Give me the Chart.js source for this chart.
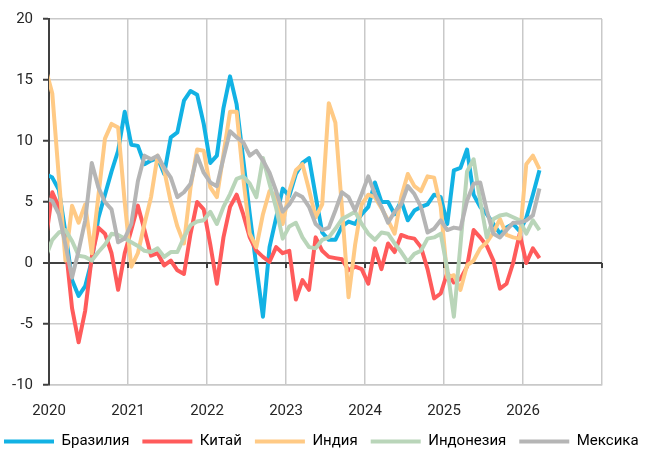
<!DOCTYPE html>
<html>
<head>
<meta charset="utf-8">
<script src="https://cdn.jsdelivr.net/npm/chart.js@4.4.1/dist/chart.umd.min.js"></script>
<style>
    html, body { margin: 0; padding: 0; background: #ffffff; }
</style>
</head>
<body>
<canvas id="chart" width="653" height="454"></canvas>
<script>
// Monthly series, Dec 2019 .. Mar 2026 (Dec 2019 is only there so the line runs into the axis)
const firstMonth = { year: 2019, month: 12 };
const yearTicks = [2020, 2021, 2022, 2023, 2024, 2025, 2026];

const seriesNames = ['Бразилия', 'Китай', 'Индия', 'Индонезия', 'Мексика'];
const seriesColors = ['#12B2E4', '#FF5B5B', '#FFCA85', '#B9D5B9', '#B5B5B5'];

const brazil = [
    7.3, 7.0, 6.0, 2.5, -1.4, -2.7, -1.9, 0.2, 3.7, 5.6, 7.5, 9.2, 12.4,
    9.7, 9.6, 8.1, 8.4, 8.6, 7.3, 10.3, 10.7, 13.3, 14.1, 13.8, 11.4,
    8.2, 8.8, 12.7, 15.3, 13.0, 8.5, 4.0, -0.3, -4.4, 1.3, 3.7, 6.1,
    5.5, 7.3, 8.2, 8.6, 5.5, 2.5, 1.9, 1.9, 3.0, 3.4, 3.2, 4.0,
    4.6, 6.6, 5.0, 5.0, 4.0, 5.1, 3.5, 4.3, 4.6, 4.8, 5.6, 5.4,
    3.2, 7.6, 7.8, 9.3, 5.6, 4.6, 4.0, 3.2, 2.4, 2.9, 3.2, 2.6,
    3.7, 5.6, 7.6
];
const china = [
    1.8, 5.8, 4.6, 1.5, -3.7, -6.5, -3.9, 0.5, 2.9, 2.4, 0.8, -2.2, 0.8,
    2.7, 4.7, 2.7, 0.6, 0.8, -0.2, 0.2, -0.6, -0.9, 2.4, 5.0, 4.4,
    1.5, -1.7, 2.1, 4.6, 5.6, 4.0, 2.1, 1.0, 0.5, 0.1, 1.3, 0.8,
    1.0, -3.0, -1.4, -2.2, 2.1, 1.0, 0.5, 0.4, 0.3, -0.6, -0.3, -0.5,
    -1.7, 1.2, -0.5, 1.6, 0.9, 2.3, 2.1, 2.0, 1.3, -0.5, -2.9, -2.5,
    -0.8, -1.6, -1.3, -0.3, 2.7, 2.1, 1.4, 0.2, -2.1, -1.7, 0.0, 2.4,
    0.0, 1.2, 0.4
];
const india = [
    15.9, 13.9, 7.0, 0.2, 4.7, 3.3, 4.8, 0.8, 5.5, 10.2, 11.4, 11.1, 5.0,
    -0.3, 0.8, 3.2, 5.4, 8.8, 7.6, 5.0, 3.0, 1.6, 6.2, 9.3, 9.2,
    6.2, 5.4, 8.9, 12.4, 12.4, 7.0, 2.4, 1.3, 4.0, 5.9, 5.5, 3.2,
    5.9, 7.6, 8.1, 6.0, 3.75, 4.8, 13.1, 11.5, 4.5, -2.8, 1.5, 4.8,
    5.6, 5.4, 4.5, 3.5, 2.4, 5.4, 7.3, 6.3, 5.9, 7.1, 7.0, 4.6,
    -1.2, -1.0, -2.2, -0.2, 0.2, 1.2, 1.7, 2.5, 3.6, 2.3, 2.1, 2.0,
    8.1, 8.8, 7.7
];
const indonesia = [
    0.5, 1.9, 2.5, 2.7, 1.8, 0.6, 0.5, 0.2, 0.9, 1.5, 2.4, 2.3, 2.0,
    1.7, 1.4, 1.0, 0.9, 1.2, 0.5, 0.9, 0.9, 2.1, 3.1, 3.4, 3.5,
    4.2, 3.2, 4.6, 5.65, 6.9, 7.1, 6.5, 5.4, 8.6, 6.5, 4.5, 2.0,
    3.0, 3.3, 2.1, 1.3, 1.2, 1.9, 2.1, 2.8, 3.6, 3.9, 4.2, 3.2,
    2.4, 1.9, 2.5, 2.4, 1.6, 0.9, 0.1, 0.75, 1.0, 2.0, 2.1, 2.4,
    -0.5, -4.4, 1.5, 7.5, 8.5, 5.1, 2.1, 3.6, 3.9, 4.0, 3.75, 3.5,
    2.4, 3.5, 2.7
];
const mexico = [
    5.3, 5.1, 4.0, 1.5, -1.2, 1.0, 3.5, 8.2, 6.2, 5.0, 4.4, 1.7, 2.0,
    3.2, 6.7, 8.8, 8.5, 8.8, 7.8, 7.0, 5.4, 5.8, 6.5, 8.8, 7.4,
    6.6, 6.3, 8.6, 10.8, 10.3, 9.9, 8.8, 9.2, 8.4, 7.4, 5.9, 4.2,
    4.8, 5.7, 5.4, 4.6, 3.2, 2.7, 2.9, 4.3, 5.8, 5.4, 4.3, 5.65,
    7.1, 5.65, 4.6, 3.3, 4.2, 4.8, 6.3, 5.65, 4.6, 2.5, 2.8, 3.5,
    2.7, 2.9, 2.8, 5.1, 6.5, 6.6, 4.3, 2.4, 2.1, 2.7, 3.3, 3.3,
    3.5, 3.9, 6.1
];
const seriesValues = [brazil, china, india, indonesia, mexico];

const gridGray = '#c9c9c9';
const axisDark = '#404040';
const textColor = '#262626';
const fontFamily = "Roboto, 'Noto Sans', sans-serif";

// mid-month position on a year axis
const monthX = (i) => {
    const m = firstMonth.month - 1 + i;
    return firstMonth.year + (m + 0.5) / 12;
};

const datasets = seriesValues.map((values, s) => ({
    label: seriesNames[s],
    data: values.map((v, i) => ({ x: monthX(i), y: v })),
    borderColor: seriesColors[s],
    backgroundColor: seriesColors[s],
    borderWidth: 4,
    pointRadius: 0,
    tension: 0,
    borderJoinStyle: 'round',
    clip: 0,
    order: seriesValues.length - s, // last series drawn on top
}));

// small ticks hanging under the zero line at every year
const zeroLineTicks = {
    id: 'zeroLineTicks',
    beforeDatasetsDraw(chart) {
        const { ctx, scales: { x, y } } = chart;
        const y0 = y.getPixelForValue(0);
        ctx.save();
        ctx.strokeStyle = axisDark;
        ctx.lineWidth = 2;
        for (let yr = x.min; yr <= x.max; yr++) {
            const px = x.getPixelForValue(yr);
            ctx.beginPath();
            ctx.moveTo(px, y0);
            ctx.lineTo(px, y0 + 5);
            ctx.stroke();
        }
        ctx.restore();
    }
};

new Chart(document.getElementById('chart'), {
    type: 'line',
    data: { datasets },
    plugins: [zeroLineTicks],
    options: {
        responsive: false,
        animation: false,
        layout: { padding: { left: -9, right: 0, top: 17, bottom: -5 } },
        plugins: {
            tooltip: { enabled: false },
            legend: {
                position: 'bottom',
                align: 'start',
                labels: {
                    boxWidth: 50,
                    boxHeight: 4,
                    padding: 13,
                    color: textColor,
                    font: { family: fontFamily, size: 15 },
                    generateLabels: (chart) => chart.data.datasets.map((ds, i) => ({
                        text: ds.label,
                        fillStyle: ds.borderColor,
                        strokeStyle: ds.borderColor,
                        lineWidth: 0,
                        hidden: false,
                        datasetIndex: i,
                    })),
                },
            },
        },
        scales: {
            x: {
                type: 'linear',
                min: 2020,
                max: 2027,
                ticks: {
                    stepSize: 1,
                    autoSkip: false,
                    maxRotation: 0,
                    padding: 17,
                    color: textColor,
                    font: { family: fontFamily, size: 15 },
                    callback: (v) => yearTicks.includes(v) ? String(v) : '',
                },
                grid: {
                    drawTicks: false,
                    lineWidth: 1.5,
                    color: (c) => c.tick && c.tick.value === 2020 ? 'rgba(0,0,0,0)' : gridGray,
                },
                border: { color: gridGray, width: 1.5 },
                afterFit: (s) => { s.height = 36; },
            },
            y: {
                min: -10,
                max: 20,
                ticks: {
                    stepSize: 5,
                    padding: 10,
                    color: textColor,
                    font: { family: fontFamily, size: 15 },
                },
                grid: {
                    tickLength: 6,
                    tickColor: axisDark,
                    tickWidth: 2,
                    color: (c) => c.tick && c.tick.value === 0 ? axisDark : gridGray,
                    lineWidth: (c) => c.tick && c.tick.value === 0 ? 2 : 1.5,
                },
                border: { color: axisDark, width: 2 },
                afterFit: (s) => { s.width = 58; },
            },
            // empty spacer on the right so the plot stops short of the canvas edge
            spacer: {
                type: 'linear',
                position: 'right',
                display: true,
                grid: { display: false },
                ticks: { display: false },
                border: { display: false },
                afterFit: (s) => { s.width = 51; },
            },
        },
    },
});
</script>
</body>
</html>
